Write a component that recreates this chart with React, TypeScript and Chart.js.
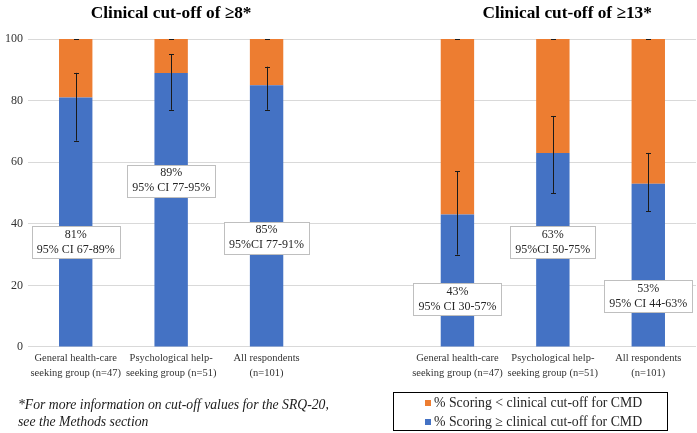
import React, { useEffect, useRef } from "react";
import { Chart, registerables } from "chart.js";

Chart.register(...registerables);

const categories: (string | string[])[] = [
  ["General health-care", "seeking group (n=47)"],
  ["Psychological help-", "seeking group (n=51)"],
  ["All respondents", "(n=101)"],
  "",
  ["General health-care", "seeking group (n=47)"],
  ["Psychological help-", "seeking group (n=51)"],
  ["All respondents", "(n=101)"],
];
const aboveCutoff = [81, 89, 85, null, 43, 63, 53];
const belowCutoff = [19, 11, 15, null, 57, 37, 47];
const ciLow = [67, 77, 77, null, 30, 50, 44];
const ciHigh = [89, 95, 91, null, 57, 75, 63];
const labelFirst = ["81%", "89%", "85%", "", "43%", "63%", "53%"];
const labelSecond = ["95% CI 67-89%", "95% CI 77-95%", "95%CI 77-91%", "", "95% CI 30-57%", "95%CI 50-75%", "95% CI 44-63%"];
const labelAnchor = [34, 54, 35.5, null, 15.6, 34, 16.6];
const panelTitles = ["Clinical cut-off of ≥8*", "Clinical cut-off of ≥13*"];
const panelTitleAt = [1, 5.15];
const legendLabels = ["% Scoring < clinical cut-off for CMD", "% Scoring ≥ clinical cut-off for CMD"];
const footnote = ["*For more information on cut-off values for the SRQ-20,", "see the Methods section"];

const BLUE = "#4472C4";
const ORANGE = "#ED7D31";
const FONT = "'Liberation Serif', 'Times New Roman', serif";

const overlayPlugin = {
  id: "overlay",
  afterDatasetsDraw(chart: any) {
    const ctx = chart.ctx;
    const x = chart.scales.x;
    const y = chart.scales.y;
    ctx.save();
    // error bars
    ctx.strokeStyle = "#1a1a1a";
    ctx.lineWidth = 1;
    for (let i = 0; i < categories.length; i++) {
      if (aboveCutoff[i] == null) continue;
      const px = Math.round(x.getPixelForValue(i)) + 0.5;
      const lo = y.getPixelForValue(ciLow[i] as number);
      const hi = y.getPixelForValue(ciHigh[i] as number);
      ctx.beginPath();
      ctx.moveTo(px, lo);
      ctx.lineTo(px, hi);
      ctx.moveTo(px - 2.5, Math.round(lo) + 0.5);
      ctx.lineTo(px + 2.5, Math.round(lo) + 0.5);
      ctx.moveTo(px - 2.5, Math.round(hi) + 0.5);
      ctx.lineTo(px + 2.5, Math.round(hi) + 0.5);
      const top = Math.round(y.getPixelForValue(100)) + 0.5;
      ctx.moveTo(px - 2.5, top);
      ctx.lineTo(px + 2.5, top);
      ctx.stroke();
    }
    // data label boxes
    ctx.font = `12px ${FONT}`;
    ctx.textAlign = "center";
    ctx.textBaseline = "middle";
    for (let i = 0; i < categories.length; i++) {
      if (labelAnchor[i] == null) continue;
      const cx = x.getPixelForValue(i);
      const cy = y.getPixelForValue(labelAnchor[i] as number);
      const w = Math.max(ctx.measureText(labelFirst[i]).width, ctx.measureText(labelSecond[i]).width) + 10;
      const h = 32;
      const bx = Math.round(cx - w / 2) + 0.5;
      const by = Math.round(cy - h / 2) + 0.5;
      ctx.fillStyle = "#ffffff";
      ctx.fillRect(bx, by, w, h);
      ctx.strokeStyle = "#bfbfbf";
      ctx.strokeRect(bx, by, w, h);
      ctx.fillStyle = "#262626";
      ctx.fillText(labelFirst[i], cx, cy - 7.5);
      ctx.fillText(labelSecond[i], cx, cy + 7.5);
    }
    // panel titles
    ctx.font = `bold 17.3px ${FONT}`;
    ctx.fillStyle = "#000000";
    for (let k = 0; k < panelTitles.length; k++) {
      ctx.fillText(panelTitles[k], x.getPixelForValue(panelTitleAt[k]), 13.5);
    }
    ctx.restore();
  },
};

export default function App() {
  const ref = useRef<HTMLCanvasElement>(null);
  useEffect(() => {
    if (!ref.current) return;
    const chart = new Chart(ref.current, {
      type: "bar",
      data: {
        labels: categories as any,
        datasets: [
          { label: legendLabels[1], data: aboveCutoff as any, backgroundColor: BLUE, stack: "s" },
          { label: legendLabels[0], data: belowCutoff as any, backgroundColor: ORANGE, stack: "s" },
        ],
      },
      options: {
        animation: false,
        responsive: false,
        maintainAspectRatio: false,
        layout: { padding: { top: 39, right: 1, bottom: 48, left: 0 } },
        datasets: { bar: { barPercentage: 0.35, categoryPercentage: 1 } },
        plugins: { legend: { display: false }, tooltip: { enabled: false } },
        scales: {
          x: {
            stacked: true,
            grid: { display: false, drawTicks: false, tickLength: 0 },
            border: { display: false },
            ticks: {
              autoSkip: false,
              maxRotation: 0,
              padding: 4,
              color: "#333333",
              font: { family: FONT, size: 10.5, lineHeight: 1.43 },
            },
          },
          y: {
            stacked: true,
            min: 0,
            max: 100,
            grid: { color: "#d9d9d9", drawTicks: false },
            border: { display: false },
            ticks: {
              stepSize: 20,
              padding: 5,
              color: "#333333",
              font: { family: FONT, size: 12 },
            },
          },
        },
      },
      plugins: [overlayPlugin],
    });
    return () => chart.destroy();
  }, []);

  return (
    <div style={{ position: "fixed", left: 0, top: 0, width: 697, height: 433, background: "#fff" }}>
      <canvas ref={ref} width={697} height={433} style={{ position: "absolute", left: 0, top: 0 }} />
      <div
        style={{
          position: "absolute",
          left: 18,
          top: 396,
          fontFamily: FONT,
          fontStyle: "italic",
          fontSize: 13.7,
          lineHeight: "17px",
          color: "#1a1a1a",
          whiteSpace: "nowrap",
        }}
      >
        {footnote.map((t, i) => (
          <div key={i}>{t}</div>
        ))}
      </div>
      <div
        style={{
          position: "absolute",
          left: 393,
          top: 392,
          width: 275,
          height: 39,
          border: "1px solid #000",
          boxSizing: "border-box",
          fontFamily: FONT,
          fontSize: 13.8,
          color: "#262626",
        }}
      >
        {[ORANGE, BLUE].map((c, i) => (
          <div
            key={i}
            style={{ position: "absolute", left: 31, top: 1 + i * 19, height: 18, display: "flex", alignItems: "center", whiteSpace: "nowrap" }}
          >
            <span style={{ display: "inline-block", width: 6, height: 6, background: c, marginRight: 3 }} />
            <span>{legendLabels[i]}</span>
          </div>
        ))}
      </div>
    </div>
  );
}
